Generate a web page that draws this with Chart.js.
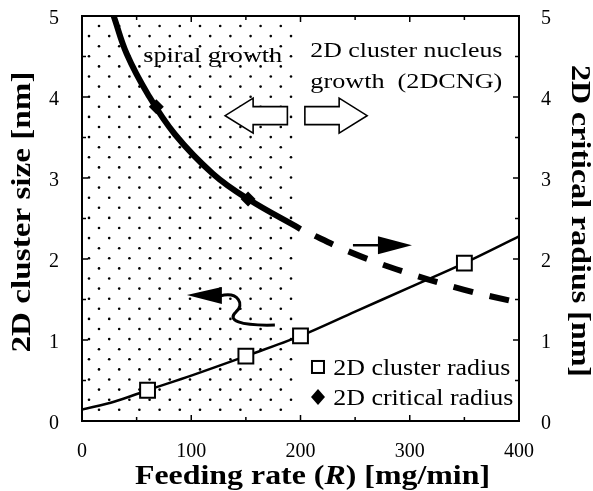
<!DOCTYPE html>
<html>
<head>
<meta charset="utf-8">
<script src="https://cdn.jsdelivr.net/npm/chart.js@4.4.1/dist/chart.umd.min.js"></script>
<style>
  html, body { margin: 0; padding: 0; background: #fff; }
  #wrap { width: 593px; height: 491px; position: relative; }
</style>
</head>
<body>
<div id="wrap"><canvas id="chart"></canvas></div>
<script>
// feeding rate R [mg/min] against sizes [nm]
const clusterCurveR = [0, 30, 60, 100, 150, 200, 250, 300, 350, 400];
const clusterCurveSize = [0.14, 0.24, 0.38, 0.56, 0.80, 1.05, 1.35, 1.65, 1.95, 2.28];
const clusterPointR = [60, 150, 200, 350];
const clusterPointSize = [0.38, 0.80, 1.05, 1.95];

const criticalSolidR = [29, 41, 60, 85, 120, 152, 200];
const criticalSolidRadius = [5.0, 4.53, 4.04, 3.54, 3.05, 2.74, 2.37];
const criticalDashR = [200, 250, 300, 350, 400];
const criticalDashRadius = [2.37, 2.06, 1.82, 1.62, 1.46];
const criticalPointR = [68, 152];
const criticalPointRadius = [3.88, 2.74];

const xTicks = [0, 100, 200, 300, 400];
const yTicks = [0, 1, 2, 3, 4, 5];
const spiralLimit = 200;   // end of the dotted "spiral growth" region

const legendLabels = ['2D cluster radius', '2D critical radius'];

const zip = (xs, ys) => xs.map((v, i) => ({x: v, y: ys[i]}));

const SERIF = '"Liberation Serif", "Times New Roman", serif';

// draws text squeezed/stretched to a given width
function fitText(ctx, parts, x, y, w, align) {
    let total = 0;
    parts.forEach(p => { ctx.font = p.font; total += ctx.measureText(p.text).width; });
    const sx = w / total;
    ctx.save();
    ctx.translate(x, y);
    ctx.scale(sx, 1);
    let cx = align === 'center' ? -total / 2 : 0;
    ctx.textAlign = 'left';
    parts.forEach(p => {
        ctx.font = p.font;
        ctx.fillText(p.text, cx, 0);
        cx += ctx.measureText(p.text).width;
    });
    ctx.restore();
}

function hollowArrow(ctx, xBack, xTip, y) {
    const dir = xTip > xBack ? 1 : -1;
    const head = 28 * dir, hh = 17.5, sh = 9;
    ctx.save();
    ctx.beginPath();
    ctx.moveTo(xBack, y - sh);
    ctx.lineTo(xTip - head, y - sh);
    ctx.lineTo(xTip - head, y - hh);
    ctx.lineTo(xTip, y);
    ctx.lineTo(xTip - head, y + hh);
    ctx.lineTo(xTip - head, y + sh);
    ctx.lineTo(xBack, y + sh);
    ctx.closePath();
    ctx.fillStyle = '#fff';
    ctx.fill();
    ctx.lineWidth = 1.6;
    ctx.strokeStyle = '#000';
    ctx.stroke();
    ctx.restore();
}

const decor = {
    id: 'decor',
    beforeDatasetsDraw(chart) {
        const {ctx, chartArea: a, scales: {x}} = chart;
        const xEnd = x.getPixelForValue(spiralLimit);
        ctx.save();
        ctx.fillStyle = '#000';
        let row = 0;
        for (let py = a.top + 10; py < a.bottom - 3; py += 10.1, row++) {
            for (let px = a.left + (row % 2 ? 7 : 17); px < xEnd - 1; px += 20.2) {
                ctx.beginPath();
                ctx.arc(px, py, 1.3, 0, Math.PI * 2);
                ctx.fill();
            }
        }
        ctx.restore();
    },
    afterDraw(chart) {
        const {ctx, chartArea: a, scales: {x, y}} = chart;
        const X = v => x.getPixelForValue(v);
        const Y = v => y.getPixelForValue(v);
        ctx.save();
        ctx.fillStyle = '#000';
        ctx.strokeStyle = '#000';

        // frame and inward ticks
        ctx.lineWidth = 2;
        ctx.strokeRect(a.left, a.top, a.width, a.height);
        ctx.lineWidth = 1.5;
        ctx.beginPath();
        for (let v = 0; v <= 5; v += 0.5) {
            const len = v % 1 === 0 ? 6 : 4;
            ctx.moveTo(a.left, Y(v)); ctx.lineTo(a.left + len, Y(v));
            ctx.moveTo(a.right, Y(v)); ctx.lineTo(a.right - len, Y(v));
        }
        for (let v = 0; v <= 400; v += 50) {
            const len = v % 100 === 0 ? 6 : 4;
            ctx.moveTo(X(v), a.bottom); ctx.lineTo(X(v), a.bottom - len);
            ctx.moveTo(X(v), a.top); ctx.lineTo(X(v), a.top + len);
        }
        ctx.stroke();

        // region arrows
        hollowArrow(ctx, X(188), X(131), Y(3.77));
        hollowArrow(ctx, X(204), X(261), Y(3.77));

        // black arrow toward the right axis
        const ay = Y(2.17), ax0 = X(248), ax1 = X(302);
        ctx.lineWidth = 2.5;
        ctx.beginPath();
        ctx.moveTo(ax0, ay); ctx.lineTo(ax1 - 32, ay);
        ctx.stroke();
        ctx.beginPath();
        ctx.moveTo(ax1 - 34, ay - 9);
        ctx.lineTo(ax1, ay);
        ctx.lineTo(ax1 - 34, ay + 9);
        ctx.closePath();
        ctx.fill();

        // black arrow with wavy tail toward the left axis
        const tx = X(96), ty = Y(1.555);
        ctx.beginPath();
        ctx.moveTo(tx, ty);
        ctx.lineTo(tx + 35, ty - 8);
        ctx.lineTo(tx + 35, ty + 9);
        ctx.closePath();
        ctx.fill();
        ctx.lineWidth = 3;
        ctx.beginPath();
        ctx.moveTo(tx + 33, ty + 1);
        ctx.bezierCurveTo(tx + 52, ty - 4, tx + 58, ty + 10, tx + 49, ty + 17);
        ctx.bezierCurveTo(tx + 40, ty + 25, tx + 52, ty + 31, tx + 88, ty + 30);
        ctx.stroke();

        // region labels
        ctx.textBaseline = 'alphabetic';
        const f22 = '22px ' + SERIF;
        fitText(ctx, [{text: 'spiral growth', font: f22}], X(56), Y(4.43), 139);
        fitText(ctx, [{text: '2D cluster nucleus', font: f22}], X(209), Y(4.49), 192);
        fitText(ctx, [{text: 'growth  (2DCNG)', font: f22}], X(209), Y(4.11), 192);

        // legend inside the plot
        const mx = X(216);
        ctx.lineWidth = 2;
        ctx.fillStyle = '#fff';
        ctx.fillRect(mx - 6, Y(0.667) - 6, 12, 12);
        ctx.strokeRect(mx - 6, Y(0.667) - 6, 12, 12);
        ctx.fillStyle = '#000';
        const dy = Y(0.296);
        ctx.beginPath();
        ctx.moveTo(mx, dy - 8); ctx.lineTo(mx + 7, dy); ctx.lineTo(mx, dy + 8); ctx.lineTo(mx - 7, dy);
        ctx.closePath();
        ctx.fill();
        const f23 = '23px ' + SERIF;
        fitText(ctx, [{text: legendLabels[0], font: f23}], X(230), Y(0.568), 177);
        fitText(ctx, [{text: legendLabels[1], font: f23}], X(230), Y(0.198), 180);

        // axis titles
        const b = 'bold 27px ' + SERIF;
        const bi = 'italic bold 27px ' + SERIF;
        ctx.textBaseline = 'middle';
        ctx.save();
        ctx.translate(23, 212);
        ctx.rotate(-Math.PI / 2);
        fitText(ctx, [{text: '2D cluster size [nm]', font: b}], 0, 0, 281, 'center');
        ctx.restore();
        ctx.save();
        ctx.translate(579, 221);
        ctx.rotate(Math.PI / 2);
        fitText(ctx, [{text: '2D critical radius [nm]', font: b}], 0, 0, 312, 'center');
        ctx.restore();
        ctx.textBaseline = 'alphabetic';
        fitText(ctx, [
            {text: 'Feeding rate (', font: b},
            {text: 'R', font: bi},
            {text: ') [mg/min]', font: b}
        ], 135, 484, 355);
        ctx.restore();
    }
};

Chart.defaults.color = '#000';
Chart.defaults.font.family = SERIF;

const tickFont = {family: SERIF, size: 20};

new Chart(document.getElementById('chart'), {
    type: 'line',
    data: {
        datasets: [{
            label: legendLabels[0],
            data: zip(clusterPointR, clusterPointSize),
            showLine: false,
            pointStyle: 'rect',
            pointRadius: 10.5,
            pointBorderWidth: 2,
            pointBackgroundColor: '#fff',
            pointBorderColor: '#000',
            yAxisID: 'y',
            order: 0
        }, {
            label: legendLabels[1],
            data: zip(criticalPointR, criticalPointRadius),
            showLine: false,
            pointStyle: 'rectRot',
            pointRadius: 7.5,
            pointBorderWidth: 0,
            pointBackgroundColor: '#000',
            yAxisID: 'y2',
            order: 0
        }, {
            label: 'cluster curve',
            data: zip(clusterCurveR, clusterCurveSize),
            borderColor: '#000',
            borderWidth: 2.5,
            pointRadius: 0,
            cubicInterpolationMode: 'monotone',
            yAxisID: 'y',
            order: 2
        }, {
            label: 'critical curve',
            data: zip(criticalSolidR, criticalSolidRadius),
            borderColor: '#000',
            borderWidth: 6,
            pointRadius: 0,
            tension: 0.4,
            yAxisID: 'y2',
            order: 1
        }, {
            label: 'critical curve (extrapolated)',
            data: zip(criticalDashR, criticalDashRadius),
            borderColor: '#000',
            borderWidth: 6,
            borderDash: [20, 17],
            borderDashOffset: 21,
            pointRadius: 0,
            tension: 0.4,
            yAxisID: 'y2',
            order: 1
        }]
    },
    options: {
        responsive: true,
        maintainAspectRatio: false,
        animation: false,
        layout: {padding: {top: 16, left: 0, right: 0, bottom: 0}},
        plugins: {legend: {display: false}, tooltip: {enabled: false}},
        scales: {
            x: {
                type: 'linear',
                min: 0,
                max: 400,
                afterBuildTicks: s => { s.ticks = xTicks.map(v => ({value: v})); },
                afterFit: s => { s.height = 70; s.paddingLeft = 0; s.paddingRight = 0; },
                grid: {display: false},
                border: {display: false},
                ticks: {font: tickFont, padding: 11, maxRotation: 0, color: '#000'}
            },
            y: {
                position: 'left',
                min: 0,
                max: 5,
                afterBuildTicks: s => { s.ticks = yTicks.map(v => ({value: v})); },
                afterFit: s => { s.width = 82; s.paddingTop = 0; s.paddingBottom = 0; },
                grid: {display: false},
                border: {display: false},
                ticks: {font: tickFont, padding: 15, labelOffset: 3, color: '#000'}
            },
            y2: {
                position: 'right',
                min: 0,
                max: 5,
                afterBuildTicks: s => { s.ticks = yTicks.map(v => ({value: v})); },
                afterFit: s => { s.width = 74; s.paddingTop = 0; s.paddingBottom = 0; },
                grid: {display: false},
                border: {display: false},
                ticks: {font: tickFont, padding: 14, labelOffset: 3, color: '#000'}
            }
        }
    },
    plugins: [decor]
});
</script>
</body>
</html>
